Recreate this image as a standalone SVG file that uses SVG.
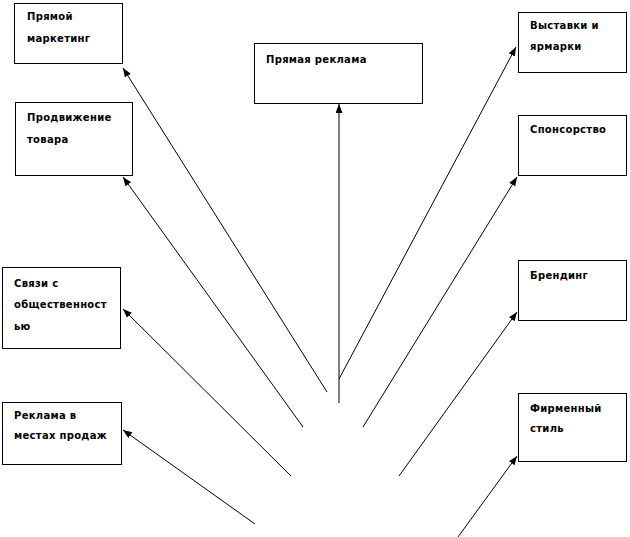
<svg xmlns="http://www.w3.org/2000/svg" width="630" height="537" viewBox="0 0 630 537">
<style>
.box rect{fill:#fff;stroke:#000;stroke-width:1}
.box text{font-family:"DejaVu Sans",Verdana,sans-serif;font-weight:bold;font-size:10px;letter-spacing:0.3px;fill:#000}
.conn line{stroke:#000;stroke-width:1;marker-end:url(#ah)}
</style>
<defs>
<marker id="ah" markerUnits="userSpaceOnUse" markerWidth="10" markerHeight="8" refX="9" refY="3.5" orient="auto">
<path d="M0,0 L9,3.5 L0,7 z" fill="#000"/>
</marker>
</defs>
<rect width="630" height="537" fill="#fff"/>
<g id="connectors" class="conn">
<line x1="327" y1="392" x2="123" y2="68"/>
<line x1="303" y1="427" x2="123" y2="177"/>
<line x1="291" y1="476" x2="123" y2="309"/>
<line x1="255" y1="524" x2="123" y2="430"/>
<line x1="339" y1="403" x2="339" y2="104"/>
<line x1="339" y1="379" x2="516" y2="47"/>
<line x1="363" y1="427" x2="517" y2="177"/>
<line x1="399" y1="476" x2="517" y2="312"/>
<line x1="458" y1="537" x2="517" y2="456"/>
</g>
<g id="n1" class="box"><rect x="14.5" y="3.5" width="108" height="60"/><text x="27" y="20">Прямой</text><text x="27" y="42">маркетинг</text></g>
<g id="n2" class="box"><rect x="15.5" y="102.5" width="117" height="73"/><text x="27" y="121">Продвижение</text><text x="27" y="143">товара</text></g>
<g id="n3" class="box"><rect x="2.5" y="267.5" width="118" height="81"/><text x="14" y="287">Связи с</text><text x="14" y="308">общественност</text><text x="14" y="330">ью</text></g>
<g id="n4" class="box"><rect x="2.5" y="402.5" width="119" height="62"/><text x="14" y="419">Реклама в</text><text x="14" y="439">местах продаж</text></g>
<g id="n5" class="box"><rect x="254.5" y="43.5" width="168" height="60"/><text x="266" y="63">Прямая реклама</text></g>
<g id="n6" class="box"><rect x="518.5" y="12.5" width="108" height="60"/><text x="530" y="29">Выставки и</text><text x="530" y="50">ярмарки</text></g>
<g id="n7" class="box"><rect x="518.5" y="115.5" width="108" height="60"/><text x="530" y="133">Спонсорство</text></g>
<g id="n8" class="box"><rect x="518.5" y="260.5" width="108" height="60"/><text x="530" y="279">Брендинг</text></g>
<g id="n9" class="box"><rect x="518.5" y="393.5" width="108" height="68"/><text x="530" y="412">Фирменный</text><text x="530" y="432">стиль</text></g>
</svg>
